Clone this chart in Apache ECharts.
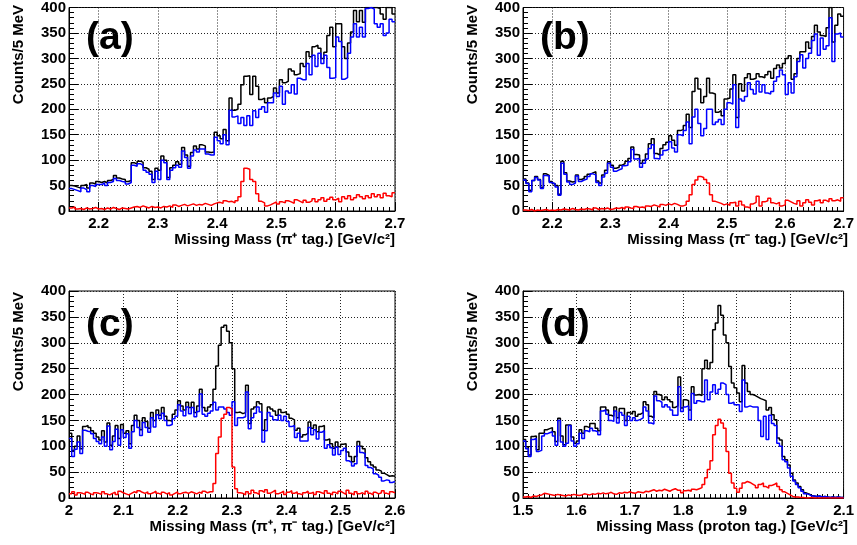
<!DOCTYPE html>
<html><head><meta charset="utf-8">
<script src="https://cdn.jsdelivr.net/npm/echarts@6/dist/echarts.min.js"></script>
<style>html,body{margin:0;padding:0;background:#fff}#c{width:857px;height:545px}</style>
</head><body><div id="c"></div>
<script>
// bin width 5 MeV
const binWidth = 0.005;

// ---------- panel (a): pi+ tag, 2.15 - 2.70 ----------
const aBlack = [50,49,47,45,50,52,45,55,53,58, 56,58,55,60,62,70,65,63,62,58, 60,95,92,98,96,85,82,78,62,84,
  80,108,100,66,85,90,97,92,125,110, 88,115,128,122,130,128,116,115,116,155, 148,142,160,138,222,198,200,210,
  248,265,266,229,265,245,219,222,213,222, 225,242,232,258,252,255,279,275,268,270, 290,284,313,303,323,326,320,300,312,345,
  361,323,368,368,323,300,330,352,394,372, 394,371,400,400,400,400,398,387,377,400, 400,387];
const aBlue = [44,42,40,38,45,42,38,50,48,52, 52,55,50,56,58,64,60,58,57,53, 56,90,88,93,90,80,76,72,56,78,
  62,100,95,62,80,85,90,86,118,105, 84,108,120,116,122,122,112,110,110,145, 138,132,150,130,198,185,187,172,
  184,168,187,168,197,184,200,205,194,213, 213,232,225,245,210,236,232,248,230,261, 258,258,290,268,306,284,310,290,306,282,
  261,262,342,333,259,262,310,342,368,342, 361,342,398,400,397,368,361,368,345,350, 377,372];
const aRed = [6,8,4,5,3,6,4,5,7,4, 5,3,6,4,7,5,3,6,5,4, 6,8,9,7,10,8,6,9,7,8, 6,9,8,10,7,12,9,11,13,10,
  12,14,11,13,12,15,13,11,14,16, 17,15,20,18,19,16,20,28,58,84, 82,62,58,34,19,16,10,12,15,18,
  14,18,16,20,18,15,22,19,16,21, 17,20,24,18,22,26,19,23,27,22, 25,18,28,24,30,22,26,32,28,24, 30,26,34,28,32,26,35,30,28,36];

// ---------- panel (b): pi- tag, 2.15 - 2.70 ----------
const bBlack = [63,55,41,60,68,62,46,73,70,58, 54,50,33,98,75,59,57,58,71,62, 64,68,72,75,77,59,55,71,80,97,
  90,84,86,90,93,98,103,126,111,110, 94,100,112,132,142,113,110,123,130,135, 148,139,129,158,160,168,190,
  164,235,261,240,213,225,261,232,
  230,194,197,187,220,222,240,268,184,250, 236,262,270,259,261,270,264,262,268,274, 261,280,287,281,290,300,305,259,270,300,
  313,313,332,320,343,365,352,345,343,360,400,332,365,387,383];
const bBlue = [61,54,38,60,66,61,44,70,69,56, 53,47,31,94,72,57,52,55,69,58, 61,63,68,73,71,56,50,67,74,94,
  86,78,81,83,89,90,97,121,102,103, 86,94,102,123,130,103,102,110,119,121, 136,124,116,
  150,148,158,175,132,185,200,172,148,162,200,200,
  170,175,180,170,200,213,210,248,164,220, 216,225,252,239,230,255,234,248,232,230, 235,255,264,277,268,229,252,232,264,294,
  307,281,300,310,335,348,306,340,318,325,380,294,348,350,342];
const bRed = [2,1,3,0,2,1,2,3,1,2, 1,3,2,4,3,2,5,3,2,4, 3,5,4,2,6,3,5,4,6,3,
  4,6,5,7,4,8,6,5,9,7, 8,6,10,9,12,10,8,13,11,14, 12,15,13,
  10,10,12,19,32,52,61,68,66,62,
  55,32,19,17,15,12,14,11,16,17, 10,19,12,8,6,14,17,29,10,18, 20,25,16,14,17,10,12,21,18,15,
  13,20,10,16,22,17,12,20,22,16, 21,18,24,20,22,19,26];

// ---------- panel (c): pi+ pi- tag, 2.00 - 2.60 ----------
const cBlack = [125,92,100,120,95,138,140,136,130,125, 118,112,130,108,145,102,120,140,115,142,
  125,130,105,140,160,150,132,155,148,135, 165,150,170,160,175,158,150,148,162,170,
  188,178,170,185,175,185,165,178,210,175, 168,176,180,
  210,255,295,330,334,322,300,250,165,166,
  163,165,218,144,172,176,186,182,131,151, 176,172,168,160,171,165,167,162,154,151,
  131,135,118,122,125,147,135,141,128,138, 140,112,114,105,96,108,99,104,105,89,
  80,70,80,109,100,95,78,70,64,60, 54,52,48,45,42,43,42];
const cBlue = [115,80,94,108,86,131,129,128,124,115, 109,105,118,100,139,93,109,133,102,132,
  117,124,96,128,150,136,121,146,136,127, 155,137,161,153,164,150,140,142,153,158,
  180,168,159,176,163,175,157,167,201,162, 158,164,168,
  185,170,176,176,172,165,160,186,140,155,
  155,157,205,134,155,164,176,166,108,130, 165,158,151,150,160,150,158,148,138,140,
  117,125,110,110,110,136,122,132,114,127, 130,96,103,97,83,98,84,92,96,72,
  69,62,66,100,88,86,63,59,56,47, 44,40,33,35,34,30,32];
const cRed = [8,12,6,10,9,7,11,8,6,10, 9,7,12,8,6,9,11,7,13,10, 8,6,9,12,10,14,11,9,12,8,
  10,13,9,7,11,8,10,6,9,12, 8,10,11,9,12,10,8,11,9,13, 10,
  12,12,28,86,118,154,162,175,172,60,18,10,
  9,6,12,8,15,10,7,14,11,16, 9,12,15,8,10,13,7,11,14,9, 12,8,6,10,13,9,11,7,12,10,
  8,14,9,6,11,8,13,10,7,15, 9,6,12,8,10,7,13,9,6,11, 8,10,14,9,7,12,10];

// ---------- panel (d): proton tag, 1.50 - 2.10 ----------
const dBlack = [113,99,83,119,120,93,125,125,132,134, 136,128,109,154,120,103,141,141,118,106,
  110,132,125,138,136,144,144,135,130,176, 176,170,160,158,176,155,173,173,150,165,
  162,167,158,162,165,186,180,158,155,206, 200,198,190,195,190,186,175,178,
  234,174,190,188,170,215,199,200,198,250, 266,250,262,325,338,372,353,315,300,254,
  222,213,203,186,256,222,206,200,198,195, 192,190,188,170,175,161,151,116,112,80,
  74,64,48,35,29,22,16,10,8,5, 4,3,4,2,3,2,1,2,1,2, 1,1];
const dBlue = [110,95,80,113,115,90,92,120,124,126, 128,120,102,150,108,100,106,140,110,100,
  105,125,115,130,128,135,130,128,122,168, 170,162,150,148,168,145,165,160,140,158,
  150,155,150,152,155,176,168,145,143,197, 188,185,176,180,176,170,160,160,
  215,167,176,178,151,202,183,188,186,186, 228,190,205,219,202,210,222,219,200,183,
  185,180,180,167,228,176,178,176,176,176, 150,119,158,113,160,144,140,106,100,74,
  70,58,42,33,26,20,13,8,7,4, 4,3,4,2,3,2,1,2,1,2, 1,1];
const dRed = [2,3,1,4,3,5,6,9,8,7, 6,5,7,6,5,4,6,5,7,6, 5,6,8,7,6,8,7,9,8,10, 8,9,11,8,7,10,9,11,10,12,
  10,9,12,11,10,13,12,14,16,13, 15,14,17,15,13,16,18,15,
  15,10,14,15,13,17,16,18,20,26, 39,55,72,122,140,152,145,135,90,48,
  29,19,11,19,29,32,30,27,24,20, 26,29,22,19,24,26,29,22,16,12,
  9,6,3,2,2,1,1,0,0,1, 0,0,0,0,0,0,0,0,0,0, 0,0];

// tick labels
const abTicks = [2.2, 2.3, 2.4, 2.5, 2.6, 2.7];
const cTicks = [2.0, 2.1, 2.2, 2.3, 2.4, 2.5, 2.6];
const dTicks = [1.5, 1.6, 1.7, 1.8, 1.9, 2.0, 2.1];
const yTitle = 'Counts/5 MeV';

const panels = [
  {label:'(a)', xmin:2.15, xmax:2.7, ticks:abTicks, title:'Missing Mass (\u03c0\u207a tag.) [GeV/c\u00b2]',
   black:aBlack, blue:aBlue, red:aRed, left:69, top:4, width:326},
  {label:'(b)', xmin:2.15, xmax:2.7, ticks:abTicks, title:'Missing Mass (\u03c0\u207b tag.) [GeV/c\u00b2]',
   black:bBlack, blue:bBlue, red:bRed, left:523, top:4, width:325},
  {label:'(c)', xmin:2.0, xmax:2.6, ticks:cTicks, title:'Missing Mass (\u03c0\u207a, \u03c0\u207b tag.) [GeV/c\u00b2]',
   black:cBlack, blue:cBlue, red:cRed, left:69, top:291, width:326},
  {label:'(d)', xmin:1.5, xmax:2.1, ticks:dTicks, title:'Missing Mass (proton tag.) [GeV/c\u00b2]',
   black:dBlack, blue:dBlue, red:dRed, left:523, top:291, width:325}
];
const H = 207;
const FONT = '"Liberation Sans", Arial, Helvetica, sans-serif';

function steps(vals, xmin) {
  const pts = vals.map((v, i) => [Math.round((xmin + i * binWidth) * 1e6) / 1e6, v]);
  pts.push([Math.round((xmin + vals.length * binWidth) * 1e6) / 1e6, vals[vals.length - 1]]);
  return pts;
}

const grid = [], xAxis = [], yAxis = [], series = [], graphic = [];
const dots = {color:'#222', width:1, type:[1,2]};
panels.forEach((p, k) => {
  grid.push({left:p.left, top:p.top, width:p.width, height:H, show:true, borderColor:'#000', borderWidth:1,
             backgroundColor:'transparent', containLabel:false});
  xAxis.push({type:'value', gridIndex:k, min:p.xmin, max:p.xmax, position:'bottom',
    axisLine:{show:true, onZero:false, lineStyle:{color:'#000', width:1}},
    axisTick:{show:true, inside:true, length:9, lineStyle:{color:'#000'}, customValues:p.ticks},
    axisLabel:{show:true, customValues:p.ticks, color:'#000', fontFamily:FONT, fontWeight:'bold', fontSize:15, margin:5},
    splitLine:{show:true, lineStyle:dots}});
  // secondary axis carrying the minor ticks every 0.01
  xAxis.push({type:'value', gridIndex:k, min:p.xmin, max:p.xmax, interval:0.01, position:'bottom',
    axisLine:{show:false}, axisLabel:{show:false}, splitLine:{show:false},
    axisTick:{show:true, inside:true, length:4, lineStyle:{color:'#000'}}});
  yAxis.push({type:'value', gridIndex:k, min:0, max:400, interval:50,
    axisLine:{show:true, lineStyle:{color:'#000', width:1}},
    axisTick:{show:true, inside:true, length:9, lineStyle:{color:'#000'}},
    minorTick:{show:true, splitNumber:5, length:5, lineStyle:{color:'#000'}},
    axisLabel:{color:'#000', fontFamily:FONT, fontWeight:'bold', fontSize:15, margin:3},
    splitLine:{show:true, lineStyle:dots}});
  const xi = 2 * k;
  [['black', p.black, '#000000'], ['blue', p.blue, '#0000ff'], ['red', p.red, '#ff0000']].forEach(([n, vals, col]) => {
    series.push({type:'line', name:p.label + n, xAxisIndex:xi, yAxisIndex:k, data:steps(vals, p.xmin),
      step:'end', symbol:'none', showSymbol:false, clip:true, silent:true,
      lineStyle:{color:col, width:1.5}});
  });
  graphic.push({type:'text', x:p.left + 17, y:p.top + 34,
    style:{text:p.label, font:'bold 39px ' + FONT, fill:'#000', textAlign:'left', textVerticalAlign:'middle'}});
  graphic.push({type:'text', x:p.left - 50, y:p.top + 1, rotation:Math.PI / 2,
    style:{text:yTitle, font:'bold 15px ' + FONT, fill:'#000', textAlign:'right', textVerticalAlign:'middle'}});
  graphic.push({type:'text', x:p.left + p.width, y:p.top + H + 29,
    style:{text:p.title, font:'bold 15px ' + FONT, fill:'#000', textAlign:'right', textVerticalAlign:'middle'}});
});

const chart = echarts.init(document.getElementById('c'), null, {renderer:'canvas'});
chart.setOption({animation:false, backgroundColor:'#fff', grid, xAxis, yAxis, series, graphic});
</script>
</body></html>
